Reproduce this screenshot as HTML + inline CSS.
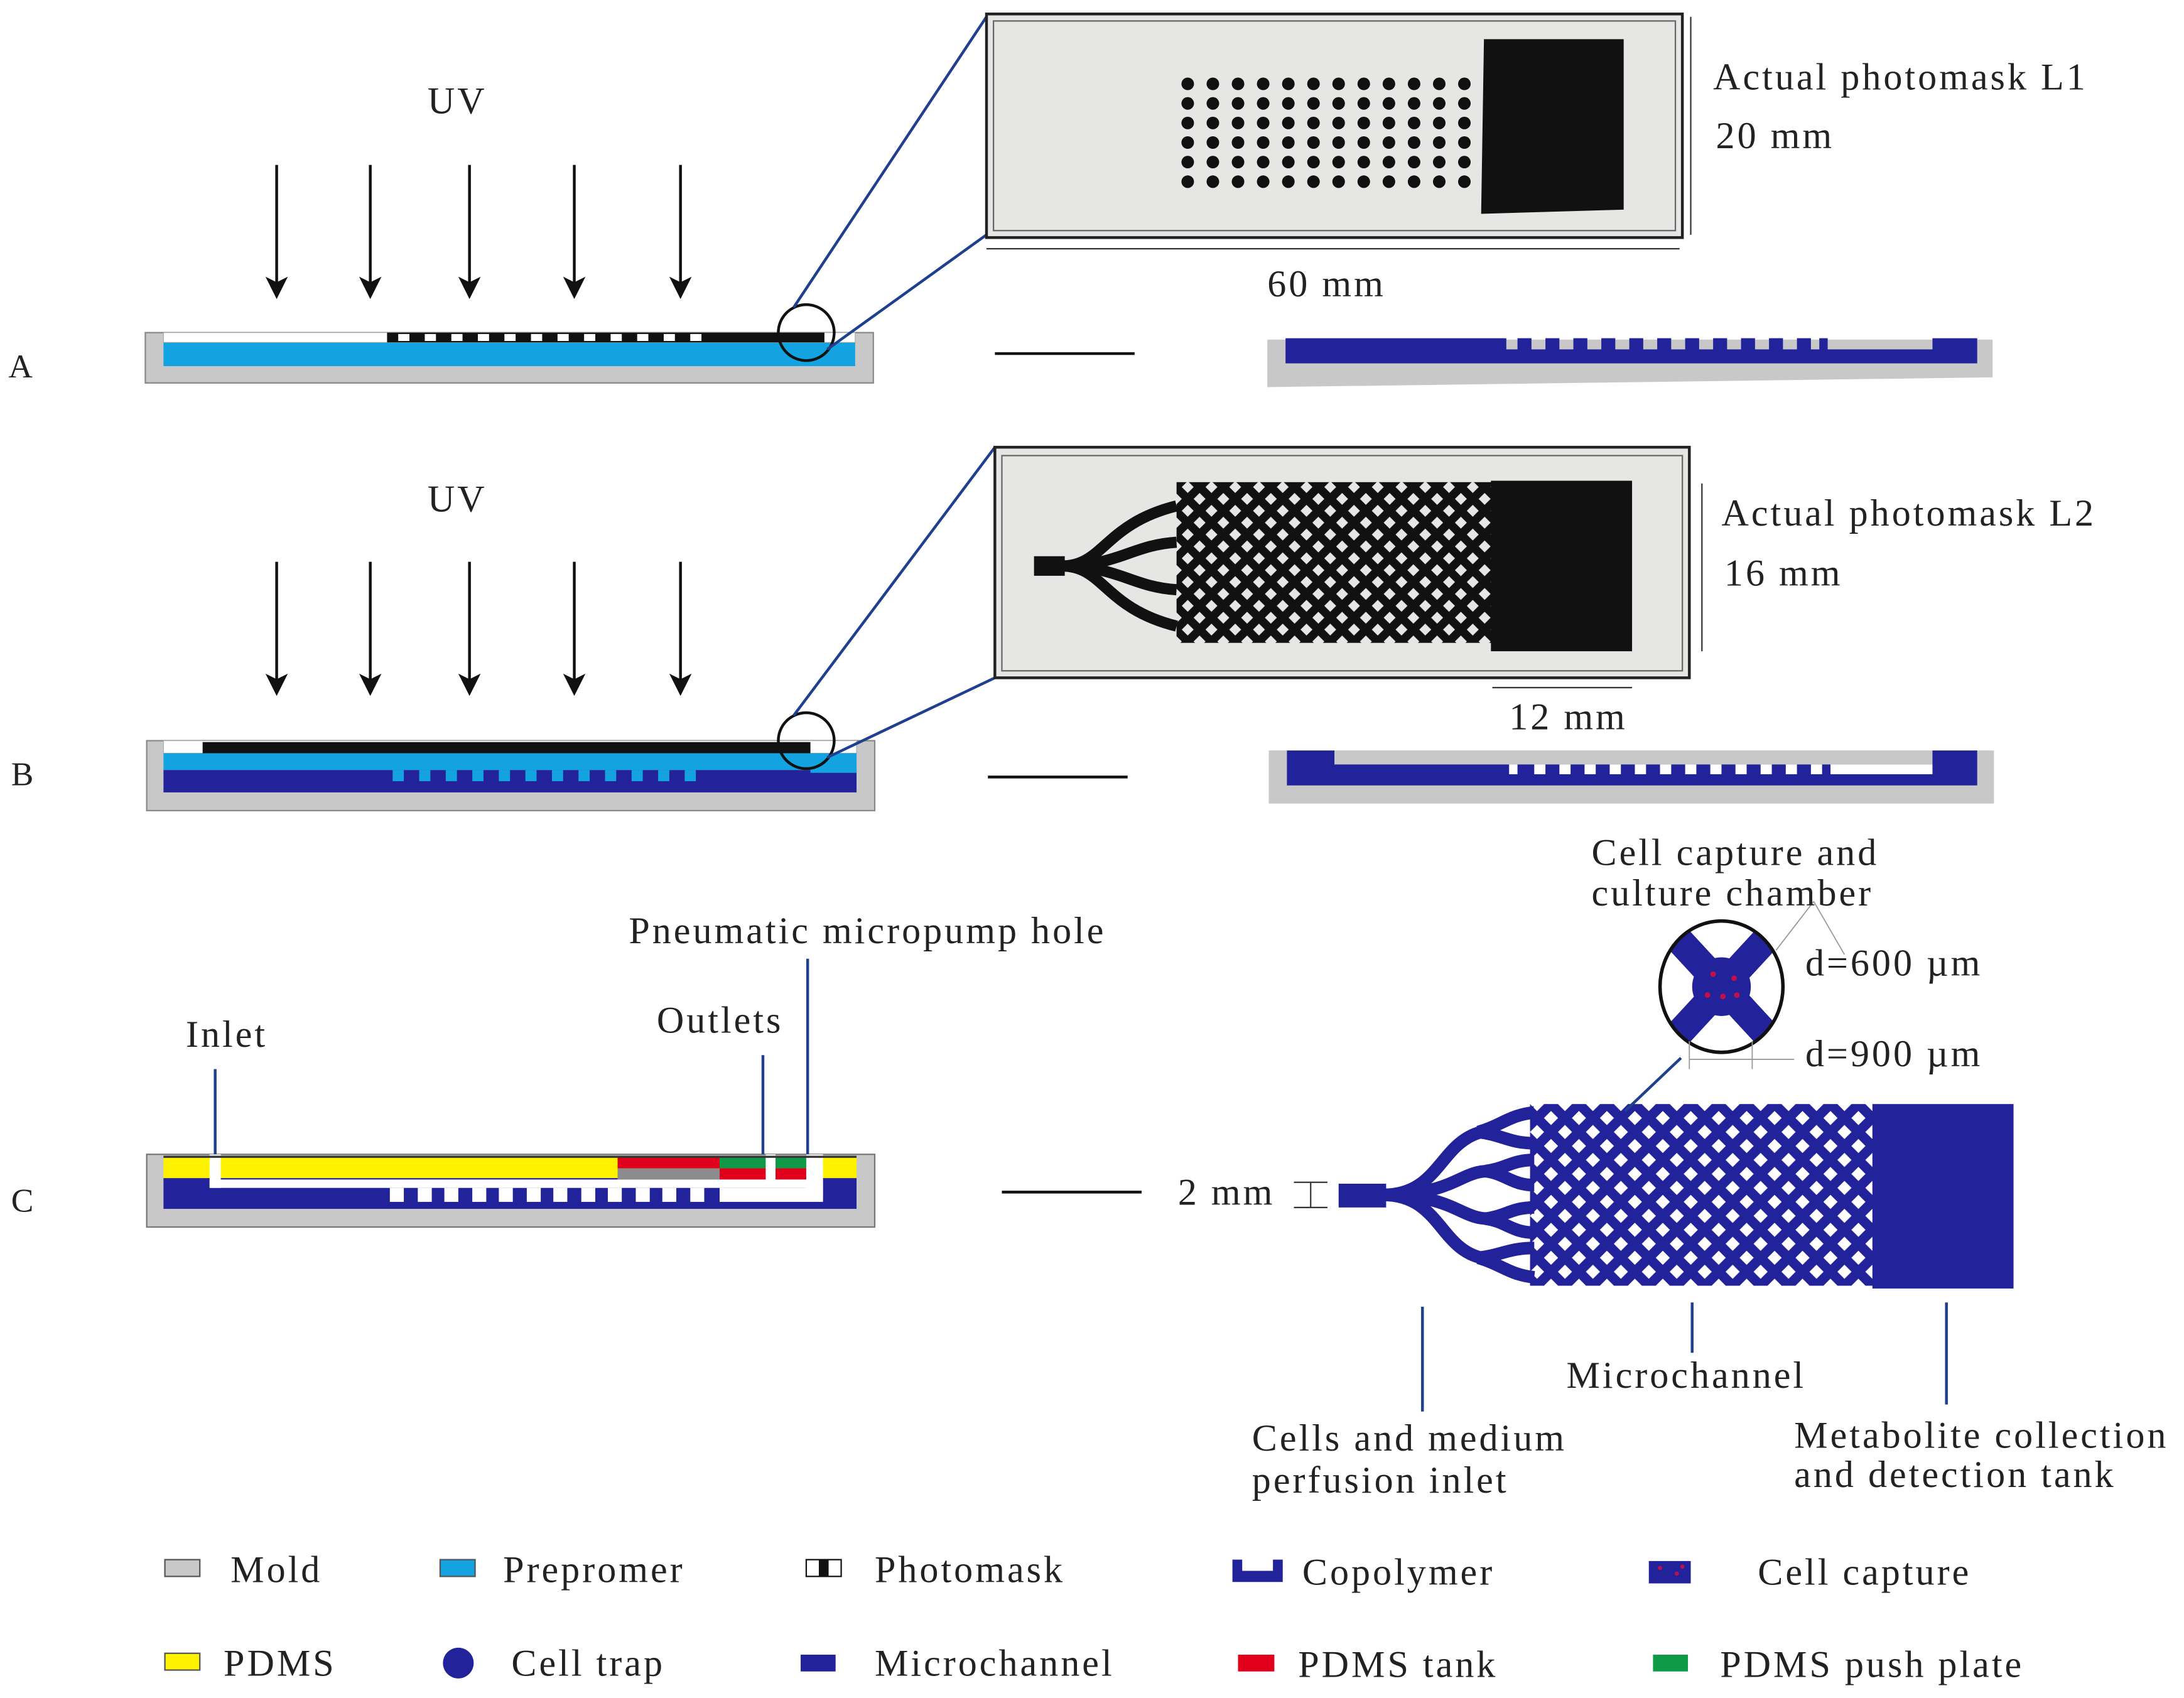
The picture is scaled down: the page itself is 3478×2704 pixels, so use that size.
<!DOCTYPE html>
<html><head><meta charset="utf-8"><style>html,body{margin:0;padding:0;background:#fff}svg{display:block}text{font-family:"Liberation Serif",serif;fill:#222;letter-spacing:1.8px}</style></head><body>
<svg width="3478" height="2704" viewBox="0 0 1563 1215" preserveAspectRatio="none" xmlns="http://www.w3.org/2000/svg">
<defs>
<pattern id="latB" patternUnits="userSpaceOnUse" width="20" height="20"><path d="M-5,-5 L25,25 M-5,15 L5,25 M15,-5 L25,5 M25,-5 L-5,25 M5,-5 L-5,5 M25,15 L15,25" stroke="#22229a" stroke-width="7"/></pattern>
<pattern id="latK" patternUnits="userSpaceOnUse" width="17" height="17"><path d="M-5,-5 L22,22 M-5,12 L5,22 M12,-5 L22,5 M22,-5 L-5,22 M5,-5 L-5,5 M22,12 L12,22" stroke="#111" stroke-width="6"/></pattern>
<g id="arr"><line x1="0" y1="0" x2="0" y2="88" stroke="#111" stroke-width="2"/><polygon points="-8,80 0,96 8,80 0,84" fill="#111"/></g>
</defs>
<rect width="1563" height="1215" fill="#fff"/>
<g font-size="27">
<!-- ===== A ===== -->
<text x="306" y="81">UV</text>
<use href="#arr" x="198" y="118"/><use href="#arr" x="265" y="118"/><use href="#arr" x="336" y="118"/><use href="#arr" x="411" y="118"/><use href="#arr" x="487" y="118"/>
<rect x="104" y="238" width="521" height="36" fill="#c8c8c8" stroke="#888"/>
<rect x="117" y="245" width="495" height="17" fill="#12a3e0"/>
<rect x="117" y="238" width="495" height="7" fill="#fff" stroke="#aaa" stroke-width="0.5"/>
<rect x="277" y="238" width="313" height="7" fill="#111"/>
<g fill="#fff"><rect x="285" y="239" width="8" height="5"/><rect x="304" y="239" width="8" height="5"/><rect x="323" y="239" width="8" height="5"/><rect x="342" y="239" width="8" height="5"/><rect x="361" y="239" width="8" height="5"/><rect x="380" y="239" width="8" height="5"/><rect x="399" y="239" width="8" height="5"/><rect x="418" y="239" width="8" height="5"/><rect x="437" y="239" width="8" height="5"/><rect x="456" y="239" width="8" height="5"/><rect x="475" y="239" width="8" height="5"/><rect x="494" y="239" width="8" height="5"/></g>
<circle cx="577" cy="238" r="20" fill="none" stroke="#111" stroke-width="2"/>
<line x1="568" y1="220" x2="706" y2="12" stroke="#1f3f8f" stroke-width="2"/>
<line x1="592" y1="250" x2="706" y2="168" stroke="#1f3f8f" stroke-width="2"/>
<text x="6" y="270" font-family="Liberation Sans" font-size="24">A</text>
<line x1="712" y1="253" x2="812" y2="253" stroke="#111" stroke-width="2"/>
<!-- photo L1 -->
<rect x="706" y="10" width="498" height="160" fill="#e6e6e4" stroke="#222" stroke-width="2"/>
<rect x="711" y="15" width="488" height="150" fill="none" stroke="#666" stroke-width="1"/>
<g fill="#111">
<g id="row"><circle cx="850" cy="60" r="4.5"/><circle cx="868" cy="60" r="4.5"/><circle cx="886" cy="60" r="4.5"/><circle cx="904" cy="60" r="4.5"/><circle cx="922" cy="60" r="4.5"/><circle cx="940" cy="60" r="4.5"/><circle cx="958" cy="60" r="4.5"/><circle cx="976" cy="60" r="4.5"/><circle cx="994" cy="60" r="4.5"/><circle cx="1012" cy="60" r="4.5"/><circle cx="1030" cy="60" r="4.5"/><circle cx="1048" cy="60" r="4.5"/></g>
<use href="#row" y="14"/><use href="#row" y="28"/><use href="#row" y="42"/><use href="#row" y="56"/><use href="#row" y="70"/>
<polygon points="1062,28 1162,28 1162,150 1060,153"/>
</g>
<line x1="1210" y1="12" x2="1210" y2="168" stroke="#333" stroke-width="1"/>
<line x1="706" y1="178" x2="1202" y2="178" stroke="#333" stroke-width="1"/>
<text x="1226" y="64">Actual photomask L1</text>
<text x="1228" y="106">20 mm</text>
<text x="907" y="212">60 mm</text>
<!-- right A -->
<polygon points="907,243 1426,243 1426,270 907,277" fill="#c8c8c8"/>
<path d="M920,242 H1078 V250 H1310 V250 H1383 V242 H1415 V260 H920 Z" fill="#22229a"/>
<g fill="#22229a"><rect x="1086" y="242" width="10" height="9"/><rect x="1106" y="242" width="10" height="9"/><rect x="1126" y="242" width="10" height="9"/><rect x="1146" y="242" width="10" height="9"/><rect x="1166" y="242" width="10" height="9"/><rect x="1186" y="242" width="10" height="9"/><rect x="1206" y="242" width="10" height="9"/><rect x="1226" y="242" width="10" height="9"/><rect x="1246" y="242" width="10" height="9"/><rect x="1266" y="242" width="10" height="9"/><rect x="1286" y="242" width="10" height="9"/><rect x="1302" y="242" width="6" height="9"/></g>

<!-- ===== B ===== -->
<text x="306" y="366">UV</text>
<use href="#arr" x="198" y="402"/><use href="#arr" x="265" y="402"/><use href="#arr" x="336" y="402"/><use href="#arr" x="411" y="402"/><use href="#arr" x="487" y="402"/>
<rect x="105" y="530" width="521" height="50" fill="#c8c8c8" stroke="#888"/>
<rect x="117" y="530" width="496" height="9" fill="#fff" stroke="#aaa" stroke-width="0.5"/>
<rect x="145" y="531" width="435" height="8" fill="#111"/>
<rect x="117" y="539" width="496" height="12" fill="#12a3e0"/>
<rect x="117" y="551" width="496" height="16" fill="#22229a"/>
<g fill="#12a3e0"><rect x="281" y="551" width="8" height="8"/><rect x="300" y="551" width="8" height="8"/><rect x="319" y="551" width="8" height="8"/><rect x="338" y="551" width="8" height="8"/><rect x="357" y="551" width="8" height="8"/><rect x="376" y="551" width="8" height="8"/><rect x="395" y="551" width="8" height="8"/><rect x="414" y="551" width="8" height="8"/><rect x="433" y="551" width="8" height="8"/><rect x="452" y="551" width="8" height="8"/><rect x="471" y="551" width="8" height="8"/><rect x="490" y="551" width="8" height="8"/><rect x="580" y="539" width="33" height="14"/></g>
<circle cx="577" cy="530" r="20" fill="none" stroke="#111" stroke-width="2"/>
<line x1="568" y1="512" x2="712" y2="320" stroke="#1f3f8f" stroke-width="2"/>
<line x1="592" y1="542" x2="712" y2="485" stroke="#1f3f8f" stroke-width="2"/>
<text x="8" y="562" font-family="Liberation Sans" font-size="24">B</text>
<line x1="707" y1="556" x2="807" y2="556" stroke="#111" stroke-width="2"/>
<!-- photo L2 -->
<rect x="712" y="320" width="497" height="165" fill="#e6e6e4" stroke="#222" stroke-width="2"/>
<rect x="717" y="326" width="487" height="154" fill="none" stroke="#666" stroke-width="1"/>
<rect x="842" y="345" width="226" height="115" fill="url(#latK)"/>
<rect x="740" y="398" width="22" height="14" fill="#111"/>
<g stroke="#111" stroke-width="8" fill="none"><path d="M760,405 C790,405 790,375 842,362"/><path d="M760,405 C800,405 810,390 842,388"/><path d="M760,405 C800,405 810,420 842,422"/><path d="M760,405 C790,405 790,435 842,448"/></g>
<rect x="1067" y="344" width="101" height="122" fill="#111"/>
<line x1="1218" y1="346" x2="1218" y2="466" stroke="#333" stroke-width="1"/>
<line x1="1068" y1="492" x2="1168" y2="492" stroke="#333" stroke-width="1"/>
<text x="1232" y="376">Actual photomask L2</text>
<text x="1234" y="419">16 mm</text>
<text x="1080" y="522">12 mm</text>
<!-- right B -->
<rect x="908" y="537" width="519" height="38" fill="#c8c8c8"/>
<path d="M921,537 H955 V547 H1383 V537 H1415 V562 H921 Z" fill="#22229a"/>
<g fill="#fff"><rect x="1080" y="547" width="6" height="7"/><rect x="1098" y="547" width="8" height="7"/><rect x="1116" y="547" width="8" height="7"/><rect x="1134" y="547" width="8" height="7"/><rect x="1152" y="547" width="8" height="7"/><rect x="1170" y="547" width="8" height="7"/><rect x="1188" y="547" width="8" height="7"/><rect x="1206" y="547" width="8" height="7"/><rect x="1224" y="547" width="8" height="7"/><rect x="1242" y="547" width="8" height="7"/><rect x="1260" y="547" width="8" height="7"/><rect x="1278" y="547" width="8" height="7"/><rect x="1296" y="547" width="8" height="7"/><rect x="1310" y="547" width="73" height="7"/></g>

<!-- ===== C left ===== -->
<text x="8" y="867" font-family="Liberation Sans" font-size="24">C</text>
<rect x="105" y="826" width="521" height="52" fill="#c8c8c8" stroke="#777"/>
<rect x="117" y="828" width="496" height="16" fill="#fff200"/>
<rect x="117" y="843" width="496" height="22" fill="#22229a"/>
<rect x="442" y="828" width="73" height="8" fill="#e0001b"/>
<rect x="442" y="836" width="73" height="8" fill="#8c8c8c"/>
<rect x="515" y="828" width="33" height="8" fill="#0f9a48"/>
<rect x="515" y="836" width="33" height="8" fill="#e0001b"/>
<rect x="555" y="828" width="22" height="8" fill="#0f9a48"/>
<rect x="555" y="836" width="22" height="8" fill="#e0001b"/>
<g fill="#fff"><rect x="150" y="826" width="8" height="24"/><rect x="150" y="844" width="439" height="6"/><rect x="515" y="850" width="74" height="10"/><rect x="548" y="826" width="7" height="20"/><rect x="577" y="826" width="12" height="30"/>
<rect x="279" y="850" width="10" height="10"/><rect x="299" y="850" width="10" height="10"/><rect x="318" y="850" width="10" height="10"/><rect x="338" y="850" width="10" height="10"/><rect x="357" y="850" width="10" height="10"/><rect x="377" y="850" width="10" height="10"/><rect x="396" y="850" width="10" height="10"/><rect x="416" y="850" width="10" height="10"/><rect x="435" y="850" width="10" height="10"/><rect x="455" y="850" width="10" height="10"/><rect x="474" y="850" width="10" height="10"/><rect x="494" y="850" width="10" height="10"/></g>
<rect x="117" y="827" width="496" height="1.5" fill="#333"/>
<g stroke="#1f3f8f" stroke-width="2"><line x1="154" y1="765" x2="154" y2="826"/><line x1="546" y1="755" x2="546" y2="826"/><line x1="578" y1="686" x2="578" y2="826"/></g>
<text x="450" y="675">Pneumatic micropump hole</text>
<text x="470" y="739">Outlets</text>
<text x="133" y="749">Inlet</text>
<line x1="717" y1="853" x2="817" y2="853" stroke="#111" stroke-width="2"/>
<text x="843" y="862">2 mm</text>
<g stroke="#333" stroke-width="1"><line x1="926" y1="846" x2="950" y2="846"/><line x1="926" y1="864" x2="950" y2="864"/><line x1="938" y1="846" x2="938" y2="864"/></g>

<!-- ===== C right ===== -->
<rect x="1095" y="790" width="246" height="130" fill="url(#latB)"/>
<rect x="958" y="847" width="34" height="17" fill="#22229a"/>
<g stroke="#22229a" stroke-width="9" fill="none">
<path d="M990,855 C1030,855 1030,818 1060,810"/><path d="M990,855 C1040,855 1045,838 1065,838"/><path d="M990,855 C1040,855 1045,872 1065,872"/><path d="M990,855 C1030,855 1030,893 1060,900"/>
<path d="M1058,810 C1075,805 1080,798 1098,796"/><path d="M1058,810 C1075,812 1080,818 1098,818"/><path d="M1063,838 C1078,836 1082,830 1098,830"/><path d="M1063,838 C1078,840 1082,848 1098,848"/><path d="M1063,872 C1078,870 1082,864 1098,864"/><path d="M1063,872 C1078,874 1082,882 1098,882"/><path d="M1058,900 C1075,898 1080,893 1098,893"/><path d="M1058,900 C1075,905 1080,912 1098,914"/></g>
<rect x="1340" y="790" width="101" height="132" fill="#22229a"/>
<!-- chamber detail -->
<clipPath id="cc"><ellipse cx="1232" cy="706" rx="44" ry="47"/></clipPath>
<g clip-path="url(#cc)" stroke="#22229a" stroke-width="20"><line x1="1190" y1="660" x2="1275" y2="752"/><line x1="1275" y1="660" x2="1190" y2="752"/></g>
<circle cx="1232" cy="706" r="21" fill="#22229a"/>
<g fill="#c0104a"><circle cx="1226" cy="697" r="2"/><circle cx="1241" cy="700" r="2"/><circle cx="1222" cy="712" r="2"/><circle cx="1233" cy="713" r="2"/><circle cx="1243" cy="712" r="2"/></g>
<ellipse cx="1232" cy="706" rx="44" ry="47" fill="none" stroke="#111" stroke-width="2.5"/>
<g stroke="#999" stroke-width="0.8"><line x1="1271" y1="680" x2="1298" y2="645"/><line x1="1298" y1="645" x2="1320" y2="683"/><line x1="1209" y1="745" x2="1209" y2="765"/><line x1="1254" y1="745" x2="1254" y2="765"/><line x1="1209" y1="758" x2="1284" y2="758"/></g>
<line x1="1203" y1="757" x2="1163" y2="795" stroke="#1f3f8f" stroke-width="2"/>
<text x="1139" y="619">Cell capture and</text>
<text x="1139" y="648">culture chamber</text>
<text x="1292" y="698">d=600 µm</text>
<text x="1292" y="763">d=900 µm</text>
<g stroke="#1f3f8f" stroke-width="2"><line x1="1018" y1="935" x2="1018" y2="1010"/><line x1="1211" y1="932" x2="1211" y2="968"/><line x1="1393" y1="932" x2="1393" y2="1005"/></g>
<text x="896" y="1038">Cells and medium</text>
<text x="896" y="1068">perfusion inlet</text>
<text x="1121" y="993">Microchannel</text>
<text x="1284" y="1036">Metabolite collection</text>
<text x="1284" y="1064">and detection tank</text>

<!-- ===== legend ===== -->
<rect x="118" y="1116" width="25" height="12" fill="#c8c8c8" stroke="#555"/><text x="165" y="1132">Mold</text>
<rect x="315" y="1116" width="25" height="12" fill="#12a3e0" stroke="#555"/><text x="360" y="1132">Prepromer</text>
<rect x="577" y="1116" width="25" height="12" fill="#fff" stroke="#111"/><rect x="586" y="1116" width="7" height="12" fill="#111"/><text x="626" y="1132">Photomask</text>
<path d="M882,1116 H889 V1124 H911 V1116 H918 V1132 H882 Z" fill="#22229a"/><text x="932" y="1134">Copolymer</text>
<rect x="1180" y="1117" width="30" height="16" fill="#22229a"/><g fill="#c0104a"><circle cx="1188" cy="1122" r="1.5"/><circle cx="1200" cy="1126" r="1.5"/><circle cx="1204" cy="1121" r="1.5"/></g><text x="1258" y="1134">Cell capture</text>
<rect x="118" y="1183" width="25" height="12" fill="#fff200" stroke="#555"/><text x="160" y="1199">PDMS</text>
<circle cx="328" cy="1190" r="11" fill="#22229a"/><text x="366" y="1199">Cell trap</text>
<rect x="573" y="1184" width="25" height="12" fill="#22229a"/><text x="626" y="1199">Microchannel</text>
<rect x="886" y="1184" width="26" height="12" fill="#e0001b"/><text x="929" y="1200">PDMS tank</text>
<rect x="1183" y="1184" width="25" height="12" fill="#0f9a48"/><text x="1231" y="1200">PDMS push plate</text>
</g>
</svg>
</body></html>
